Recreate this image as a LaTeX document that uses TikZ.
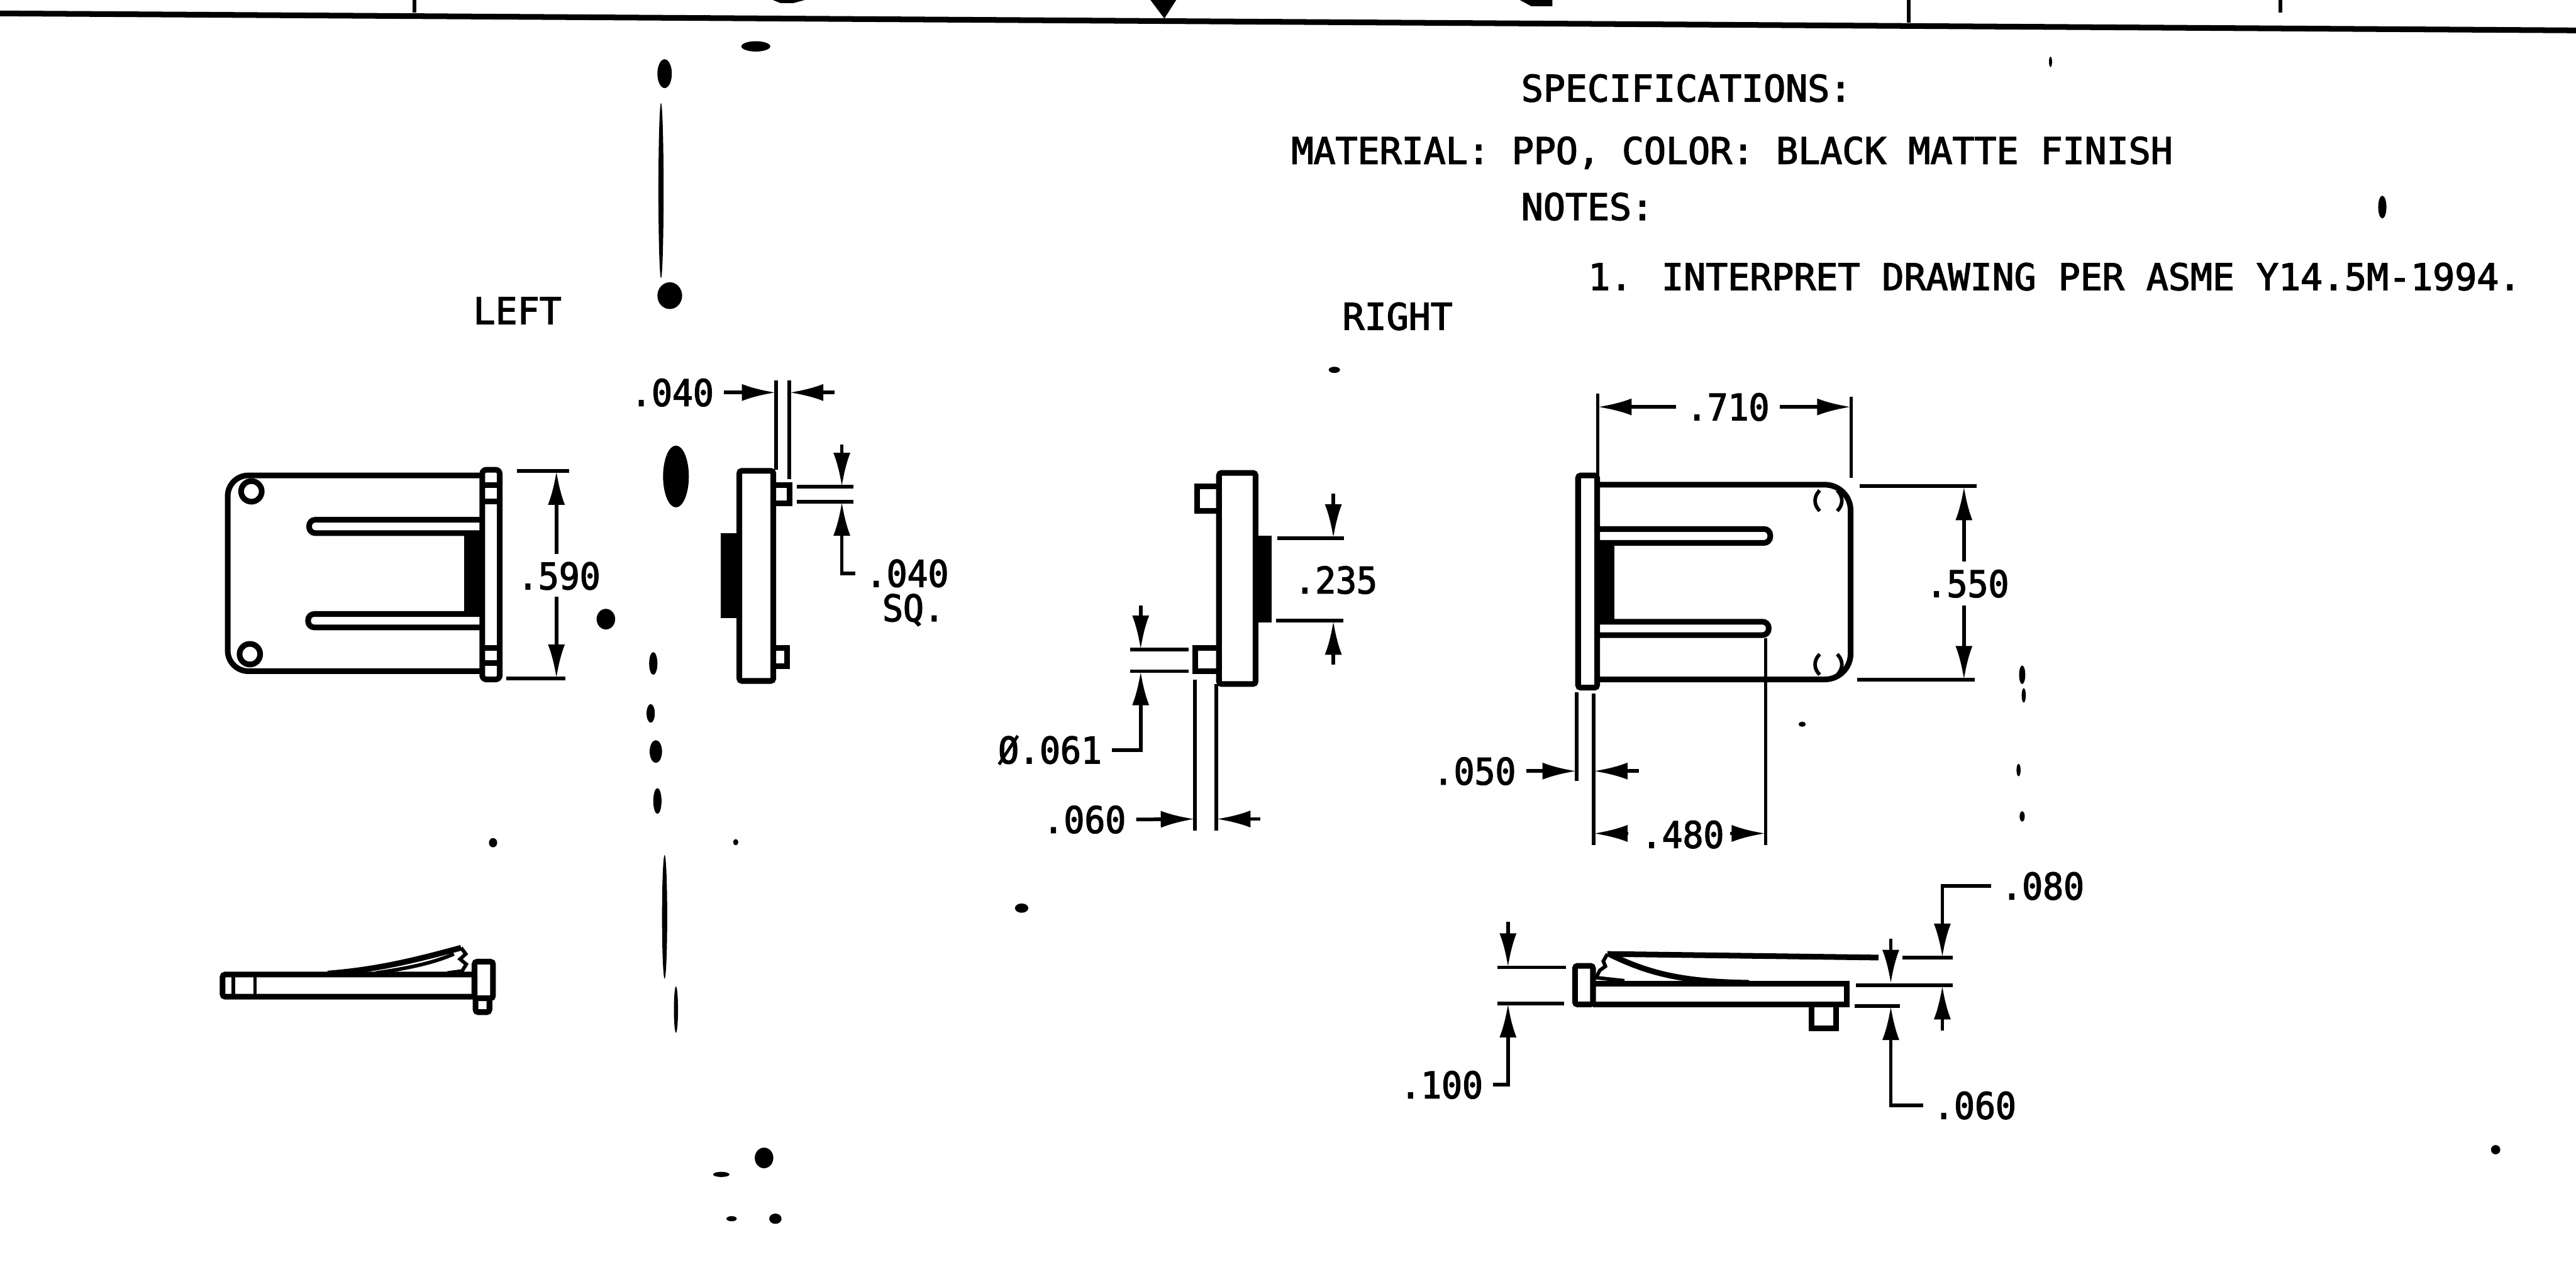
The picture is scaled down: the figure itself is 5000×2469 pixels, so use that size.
\documentclass[tikz,border=0pt]{standalone}
\usepackage{fontspec}
\newfontfamily\notefont[RawFeature={embolden=2.5}]{DejaVu Sans Mono}
\newfontfamily\dimfont[RawFeature={embolden=2.5},FakeStretch=0.94]{DejaVu Sans Mono}
\usetikzlibrary{arrows.meta}
\tikzset{
  part/.style={line width=0.11cm},
  dimline/.style={line width=0.07cm},
  dimarrow/.style={dimline, -{Latex[length=0.66cm,width=0.33cm]}},
  plotted/.style={font=\dimfont\fontsize{20.2}{24}\selectfont, inner sep=0pt, outer sep=0.2cm, text height=0.52cm, text depth=0pt},
  note/.style={font=\notefont\fontsize{20.2}{24}\selectfont, inner sep=0pt, text height=0.52cm, text depth=0pt, anchor=west}
}
\begin{document}
\begin{tikzpicture}[x=0.01cm,y=-0.01cm]
\useasboundingbox (0,0) rectangle (5000,2469);
\draw [part] (0,26) -- (5000,59);
\draw [dimline] (804,0) -- (804,25);
\draw [dimline] (3705,0) -- (3705,44);
\fill (2233,0) -- (2283,0) -- (2260,36) -- cycle;
\fill (1500,0) -- (1562,0) -- (1540,6) -- (1515,6) -- cycle;
\fill (2950,0) -- (2972,12) -- (3013,12) -- (3013,0) -- cycle;
\draw [dimline] (4426,0) -- (4426,24);

\node [note] (Spec) at (2952,171) {SPECIFICATIONS:};
\node [note] (Material) at (2506,292) {MATERIAL: PPO, COLOR: BLACK MATTE FINISH};
\node [note] (Notes) at (2952,401) {NOTES:};
\node [note] (Interpret) at (3082,537) {1. INTERPRET DRAWING PER ASME Y14.5M-1994.};
\node [note] (Left) at (918,603) {LEFT};
\node [note] (Right) at (2605,614) {RIGHT};

\draw [part, rounded corners=0.4cm] (934,923) -- (442,923) -- (442,1303) -- (934,1303);
\draw [part, rounded corners=0.08cm] (936,912) rectangle (970,1319);
\draw [part] (936,942) -- (970,942) (936,974) -- (970,974) (936,1258) -- (970,1258) (936,1287) -- (970,1287);
\draw [part] (488,954) circle (20);
\draw [part] (485,1270) circle (20);
\draw [part, rounded corners=0.12cm] (932,1009) -- (600,1009) -- (600,1035) -- (932,1035);
\draw [part, rounded corners=0.12cm] (932,1192) -- (598,1192) -- (598,1218) -- (932,1218);
\fill (901,1035) rectangle (934,1192);
\draw [dimline] (1003,914) -- (1105,914) (983,1317) -- (1097,1317);
\node [plotted] (D590) at (1085,1118) {.590};
\draw [dimarrow] (1080,1076) -- (1080,914);
\draw [dimarrow] (1080,1159) -- (1080,1317);

\draw [part, rounded corners=0.05cm] (1435,914) rectangle (1501,1322);
\fill (1399,1035) rectangle (1435,1200);
\draw [part] (1501,942) -- (1532,942) -- (1532,977) -- (1501,977);
\draw [part] (1501,1258) -- (1528,1258) -- (1528,1293) -- (1501,1293);
\draw [dimline] (1506,738) -- (1506,912) (1532,738) -- (1532,930);
\node [plotted] (D040w) at (1305,762) {.040};
\draw [dimarrow] (D040w.east) -- (1506,762);
\draw [dimarrow] (1620,762) -- (1532,762);
\draw [dimline] (1546,945) -- (1656,945) (1546,974) -- (1656,974);
\node [plotted] (D040h) at (1761,1113) {.040};
\node [note, font=\dimfont\fontsize{20.2}{24}\selectfont] (Sq) at (1712,1180) {SQ.};
\draw [dimarrow] (1634,863) -- (1634,945);
\draw [dimarrow] (D040h.west) -| (1634,974);

\draw [part, rounded corners=0.05cm] (2366,918) rectangle (2437,1328);
\fill (2437,1040) rectangle (2468,1208);
\draw [part] (2366,944) -- (2323,944) -- (2323,992) -- (2366,992);
\draw [part] (2366,1258) -- (2320,1258) -- (2320,1303) -- (2366,1303);
\draw [dimline] (2479,1045) -- (2609,1045) (2477,1205) -- (2607,1205);
\node [plotted] (D235) at (2593,1126) {.235};
\draw [dimarrow] (2588,958) -- (2588,1045);
\draw [dimarrow] (2588,1290) -- (2588,1205);
\draw [dimline] (2194,1261) -- (2307,1261) (2194,1303) -- (2307,1303);
\node [plotted] (D061) at (2038,1456) {Ø.061};
\draw [dimarrow] (2214,1175) -- (2214,1261);
\draw [dimarrow] (D061.east) -| (2214,1303);
\draw [dimline] (2319,1319) -- (2319,1612) (2361,1328) -- (2361,1612);
\node [plotted] (D060w) at (2105,1591) {.060};
\draw [dimarrow] (D060w.east) -- (2319,1590);
\draw [dimarrow] (2446,1590) -- (2361,1590);

\draw [part, rounded corners=0.05cm] (3063,923) rectangle (3100,1335);
\draw [part, rounded corners=0.5cm] (3100,941) -- (3592,941) -- (3592,1319) -- (3100,1319);
\draw [part, rounded corners=0.12cm] (3100,1027) -- (3436,1027) -- (3436,1054) -- (3100,1054);
\draw [part, rounded corners=0.12cm] (3100,1207) -- (3433,1207) -- (3433,1233) -- (3100,1233);
\fill (3100,1054) rectangle (3133,1207);
\foreach \py in {972,1290} {
  \draw [dimline] (3532,\py-20) .. controls (3520,\py-8) and (3520,\py+8) .. (3532,\py+20);
  \draw [dimline] (3566,\py-20) .. controls (3578,\py-8) and (3578,\py+8) .. (3566,\py+20);
}
\draw [dimline] (3101,764) -- (3101,923) (3593,770) -- (3593,928);
\node [plotted] (D710) at (3354,790) {.710};
\draw [dimarrow] (D710.west) -- (3101,790);
\draw [dimarrow] (D710.east) -- (3593,790);
\draw [dimline] (3610,944) -- (3837,944) (3605,1320) -- (3833,1320);
\node [plotted] (D550) at (3819,1133) {.550};
\draw [dimarrow] (3812,1090) -- (3812,944);
\draw [dimarrow] (3812,1175) -- (3812,1320);
\draw [dimline] (3060,1344) -- (3060,1516) (3093,1347) -- (3093,1641) (3427,1239) -- (3427,1641);
\node [plotted] (D050) at (2862,1497) {.050};
\draw [dimarrow] (D050.east) -- (3060,1497);
\draw [dimarrow] (3181,1497) -- (3093,1497);
\node [plotted] (D480) at (3266,1620) {.480};
\draw [dimarrow] (3160,1618) -- (3093,1618);
\draw [dimarrow] (3358,1618) -- (3427,1618);

\draw [part, rounded corners=0.05cm] (3057,1875) rectangle (3092,1950);
\draw [part] (3092,1910) -- (3584,1910) -- (3584,1950) -- (3092,1950);
\draw [part] (3516,1950) -- (3516,1996) -- (3564,1996) -- (3564,1950);
\draw [part] (3120,1852) -- (3646,1859);
\draw [part] (3125,1853) .. controls (3210,1895) and (3280,1906) .. (3395,1908);
\draw [dimline] (3120,1852) -- (3112,1866) -- (3116,1876) -- (3105,1884) -- (3098,1898) -- (3153,1904);
\draw [dimline] (2906,1878) -- (3039,1878) (2906,1948) -- (3036,1948);
\node [plotted] (D100) at (2798,2106) {.100};
\draw [dimarrow] (2927,1790) -- (2927,1878);
\draw [dimarrow] (D100.east) -| (2927,1948);
\draw [dimline] (3693,1859) -- (3790,1859) (3602,1913) -- (3790,1913) (3600,1953) -- (3688,1953);
\node [plotted] (D080) at (3965,1720) {.080};
\draw [dimarrow] (D080.west) -| (3770,1859);
\draw [dimarrow] (3770,2001) -- (3770,1913);
\node [plotted] (D060h) at (3833,2146) {.060};
\draw [dimarrow] (3670,1822) -- (3670,1910);
\draw [dimarrow] (D060h.west) -| (3670,1953);

\draw [part, rounded corners=0.05cm] (432,1892) rectangle (921,1935);
\draw [dimline] (453,1892) -- (453,1935) (495,1892) -- (495,1935);
\draw [part, rounded corners=0.05cm] (921,1867) rectangle (957,1938);
\draw [part, rounded corners=0.05cm] (923,1938) -- (923,1965) -- (950,1965) -- (950,1938);
\draw [part] (636,1890) .. controls (740,1882) and (820,1860) .. (895,1840);
\draw [dimline] (729,1889) .. controls (790,1880) and (840,1870) .. (881,1852);
\draw [dimline] (895,1840) -- (904,1852) -- (893,1862) -- (905,1872) -- (897,1885) -- (868,1889);

\foreach \px/\py/\rx/\ry in {1467/90/28/10, 1290/143/14/28, 1283/370/5/170, 1300/574/24/26,
  1312/925/25/60, 1176/1202/18/20, 1268/1288/8/22, 1263/1385/8/18, 1273/1459/12/22,
  1276/1555/8/25, 1290/1780/5/120, 1312/1960/4/45, 1483/2248/18/20, 1400/2280/16/5,
  1505/2366/12/10, 1420/2366/10/5, 4624/402/8/22, 4844/2232/9/9, 1983/1763/13/9,
  957/1636/8/9, 2590/718/11/6, 3498/1406/7/5, 1428/1635/5/6, 3925/1310/6/18,
  3928/1350/4/14, 3925/1585/5/10, 3918/1495/4/12, 3980/120/3/10} {
  \fill (\px,\py) ellipse [x radius=\rx, y radius=\ry];
}
\end{tikzpicture}
\end{document}
